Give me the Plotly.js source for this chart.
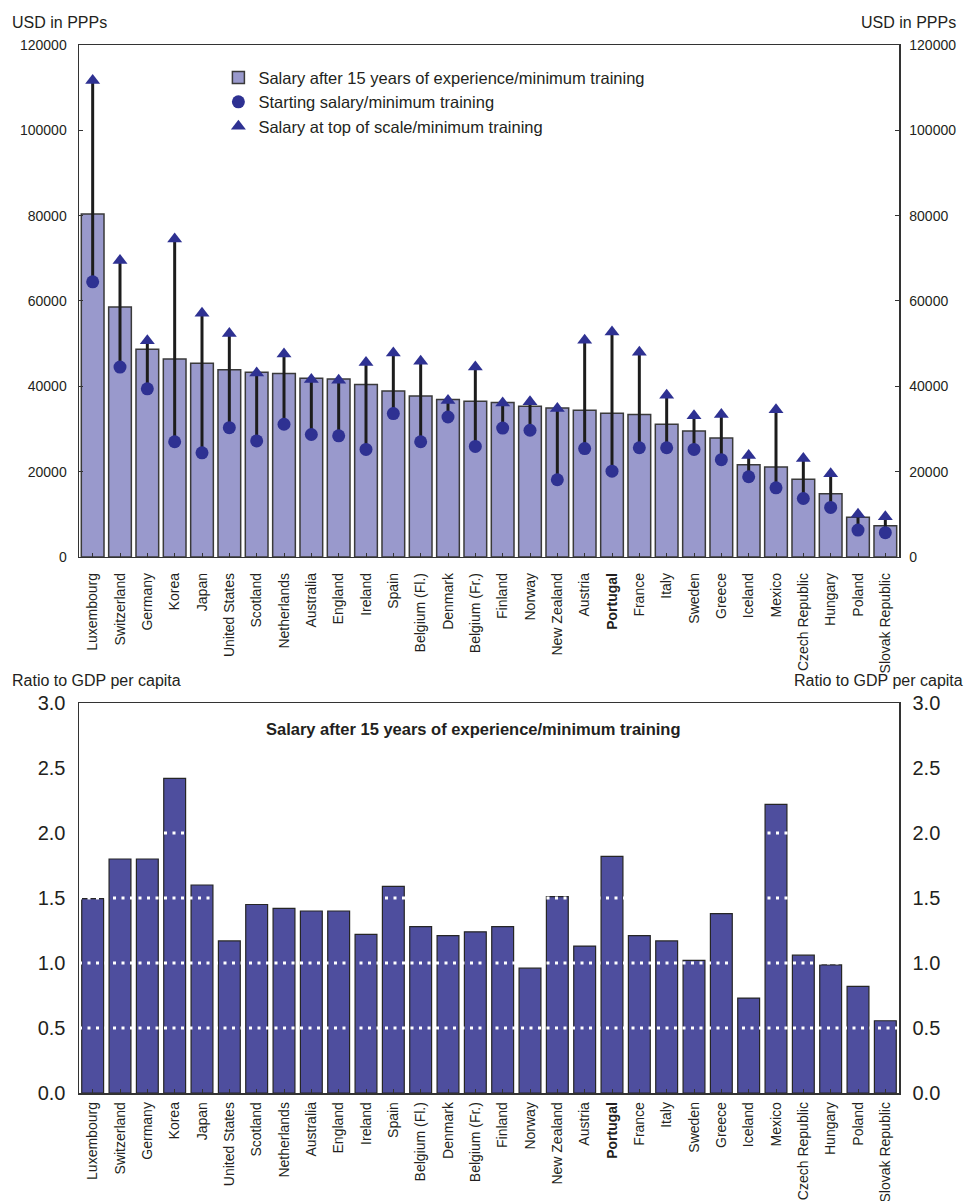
<!DOCTYPE html>
<html>
<head>
<meta charset="utf-8">
<script src="https://cdn.plot.ly/plotly-3.0.1.min.js"></script>
<style>
  html, body { margin: 0; padding: 0; background: #ffffff; }
  #chart { width: 967px; height: 1201px; }
</style>
</head>
<body>
<div id="chart"></div>
<script>
// ---------- data ----------
var categories = ["Luxembourg", "Switzerland", "Germany", "Korea", "Japan", "United States",
  "Scotland", "Netherlands", "Australia", "England", "Ireland", "Spain", "Belgium (Fl.)",
  "Denmark", "Belgium (Fr.)", "Finland", "Norway", "New Zealand", "Austria", "Portugal",
  "France", "Italy", "Sweden", "Greece", "Iceland", "Mexico", "Czech Republic", "Hungary",
  "Poland", "Slovak Republic"];

// USD in PPPs
var salary15 = [80400, 58600, 48700, 46400, 45400, 43900, 43300, 43000, 41900, 41700,
  40400, 38900, 37700, 36900, 36500, 36200, 35300, 34900, 34400, 33700,
  33400, 31100, 29500, 27900, 21600, 21100, 18200, 14800, 9300, 7300];
var startingSalary = [64500, 44500, 39400, 27000, 24400, 30300, 27200, 31100, 28700, 28400,
  25200, 33600, 27000, 32800, 25900, 30200, 29700, 18100, 25400, 20100,
  25600, 25600, 25200, 22800, 18800, 16200, 13700, 11600, 6300, 5700];
var topSalary = [111700, 69500, 50700, 74500, 57100, 52400, 43100, 47600, 41600, 41400,
  45600, 47800, 45900, 36700, 44500, 36100, 36400, 34800, 50800, 52700,
  48000, 37900, 33100, 33400, 23800, 34500, 23100, 19500, 10000, 9400];

// Ratio to GDP per capita, salary after 15 years
var ratioGDP = [1.495, 1.80, 1.80, 2.42, 1.60, 1.17, 1.45, 1.42, 1.40, 1.40,
  1.22, 1.59, 1.28, 1.21, 1.24, 1.28, 0.96, 1.51, 1.13, 1.82,
  1.21, 1.17, 1.02, 1.38, 0.73, 2.22, 1.06, 0.985, 0.82, 0.556];

var seriesNames = ["Salary after 15 years of experience/minimum training",
  "Starting salary/minimum training",
  "Salary at top of scale/minimum training"];
var highlighted = "Portugal";
var topTicks = [0, 20000, 40000, 60000, 80000, 100000, 120000];
var bottomTicks = [0, 0.5, 1.0, 1.5, 2.0, 2.5, 3.0];
var bottomGrid = [0.5, 1.0, 1.5, 2.0];

// ---------- derived ----------
var tickText = categories.map(function (c) { return c === highlighted ? "<b>" + c + "</b>" : c; });
var rangeX = [], rangeY = [];
categories.forEach(function (c, i) {
  rangeX.push(c, c, null);
  rangeY.push(startingSalary[i], topSalary[i], null);
});

var FONT = "Liberation Sans, Arial, sans-serif";
var TXT = "#231f20";
var MARK = "#2e3192";

var traces = [
  {
    type: "bar", x: categories, y: salary15, name: seriesNames[0],
    xaxis: "x", yaxis: "y", width: 0.83,
    marker: { color: "#9999cc", line: { color: "#3a3a3a", width: 1.5 } }
  },
  {
    type: "scatter", mode: "lines", x: rangeX, y: rangeY, xaxis: "x", yaxis: "y",
    line: { color: "#1c1c1c", width: 3 }, showlegend: false, hoverinfo: "skip",
    connectgaps: false
  },
  {
    type: "scatter", mode: "markers", x: categories, y: startingSalary, name: seriesNames[1],
    xaxis: "x", yaxis: "y",
    marker: { symbol: "circle", size: 13, color: MARK }
  },
  {
    type: "scatter", mode: "markers", x: categories, y: topSalary, name: seriesNames[2],
    xaxis: "x", yaxis: "y",
    marker: { symbol: "triangle-up", size: 13, color: MARK }
  },
  // invisible companion so the right-hand USD axis is drawn
  {
    type: "scatter", mode: "none", x: categories, y: salary15, xaxis: "x", yaxis: "y2",
    showlegend: false, hoverinfo: "skip"
  },
  {
    type: "bar", x: categories, y: ratioGDP, name: "Ratio to GDP per capita",
    xaxis: "x2", yaxis: "y3", width: 0.8, showlegend: false,
    marker: { color: "#4e4e9e", line: { color: "#262626", width: 1.2 } }
  },
  // invisible companion so the right-hand ratio axis is drawn
  {
    type: "scatter", mode: "none", x: categories, y: ratioGDP, xaxis: "x2", yaxis: "y4",
    showlegend: false, hoverinfo: "skip"
  }
];

var topDomain = [0.5115, 1];
var botDomain = [0, 0.3721];

var xCommon = {
  type: "category", tickmode: "array", tickvals: categories, ticktext: tickText,
  tickangle: -90, ticks: "inside", ticklen: 4, tickcolor: "#333",
  showline: true, linecolor: "#333", linewidth: 1.5, mirror: true,
  showgrid: false, zeroline: false,
  tickfont: { family: FONT, size: 14, color: TXT },
  range: [-0.5, categories.length - 0.5], fixedrange: true
};

var layout = {
  width: 967, height: 1201,
  margin: { l: 79, r: 68, t: 45, b: 108, pad: 0 },
  paper_bgcolor: "#ffffff", plot_bgcolor: "#ffffff",
  font: { family: FONT, color: TXT },
  showlegend: true,
  legend: {
    x: 0.17, y: 0.9855, xanchor: "left", yanchor: "top",
    bgcolor: "rgba(0,0,0,0)", borderwidth: 0,
    font: { family: FONT, size: 16.5, color: TXT },
    traceorder: "normal", itemwidth: 30
  },
  xaxis: Object.assign({}, xCommon, { anchor: "y", ticklabelstandoff: 9 }),
  yaxis: {
    domain: topDomain, anchor: "x", range: [0, 120000], tickmode: "array", tickvals: topTicks,
    tickformat: "d", ticks: "inside", ticklen: 4, tickcolor: "#333",
    showline: true, linecolor: "#333", linewidth: 1.5,
    showgrid: false, zeroline: false, ticklabelstandoff: 8,
    tickfont: { family: FONT, size: 14, color: TXT }, fixedrange: true
  },
  yaxis2: {
    overlaying: "y", side: "right", anchor: "x", range: [0, 120000], tickmode: "array",
    tickvals: topTicks, tickformat: "d", ticks: "inside", ticklen: 4, tickcolor: "#333",
    showline: true, linecolor: "#333", linewidth: 1.5,
    showgrid: false, zeroline: false, ticklabelstandoff: 6,
    tickfont: { family: FONT, size: 14, color: TXT }, fixedrange: true
  },
  xaxis2: Object.assign({}, xCommon, { anchor: "y3", ticklabelstandoff: 2 }),
  yaxis3: {
    domain: botDomain, anchor: "x2", range: [0, 3], tickmode: "array", tickvals: bottomTicks,
    tickformat: ".1f", ticks: "", showline: true, linecolor: "#333", linewidth: 1.5,
    showgrid: false, zeroline: false, ticklabelstandoff: 8,
    tickfont: { family: FONT, size: 20, color: TXT }, fixedrange: true
  },
  yaxis4: {
    overlaying: "y3", side: "right", anchor: "x2", range: [0, 3], tickmode: "array",
    tickvals: bottomTicks, tickformat: ".1f", ticks: "", showline: true, linecolor: "#333",
    linewidth: 1.5, showgrid: false, zeroline: false, ticklabelstandoff: 8,
    tickfont: { family: FONT, size: 20, color: TXT }, fixedrange: true
  },
  shapes: bottomGrid.map(function (v) {
    return {
      type: "line", xref: "x2 domain", x0: 0, x1: 1, yref: "y3", y0: v, y1: v,
      line: { color: "#ffffff", width: 3, dash: "3px,5.5px" }, layer: "above"
    };
  }),
  annotations: [
    { text: "USD in PPPs", xref: "paper", yref: "paper", x: -0.084, y: 1.0219,
      xanchor: "left", yanchor: "middle", showarrow: false, font: { size: 16, color: TXT } },
    { text: "USD in PPPs", xref: "paper", yref: "paper", x: 1.0719, y: 1.0219,
      xanchor: "right", yanchor: "middle", showarrow: false, font: { size: 16, color: TXT } },
    { text: "Ratio to GDP per capita", xref: "paper", yref: "paper", x: -0.084, y: 0.394,
      xanchor: "left", yanchor: "middle", showarrow: false, font: { size: 16, color: TXT } },
    { text: "Ratio to GDP per capita", xref: "paper", yref: "paper", x: 1.0805, y: 0.394,
      xanchor: "right", yanchor: "middle", showarrow: false, font: { size: 16, color: TXT } },
    { text: "<b>" + seriesNames[0] + "</b>", xref: "paper", yref: "paper", x: 0.4805, y: 0.3473,
      xanchor: "center", yanchor: "middle", showarrow: false, font: { size: 16.5, color: TXT } }
  ]
};

Plotly.newPlot("chart", traces, layout, { displayModeBar: false, staticPlot: true });
</script>
</body>
</html>
